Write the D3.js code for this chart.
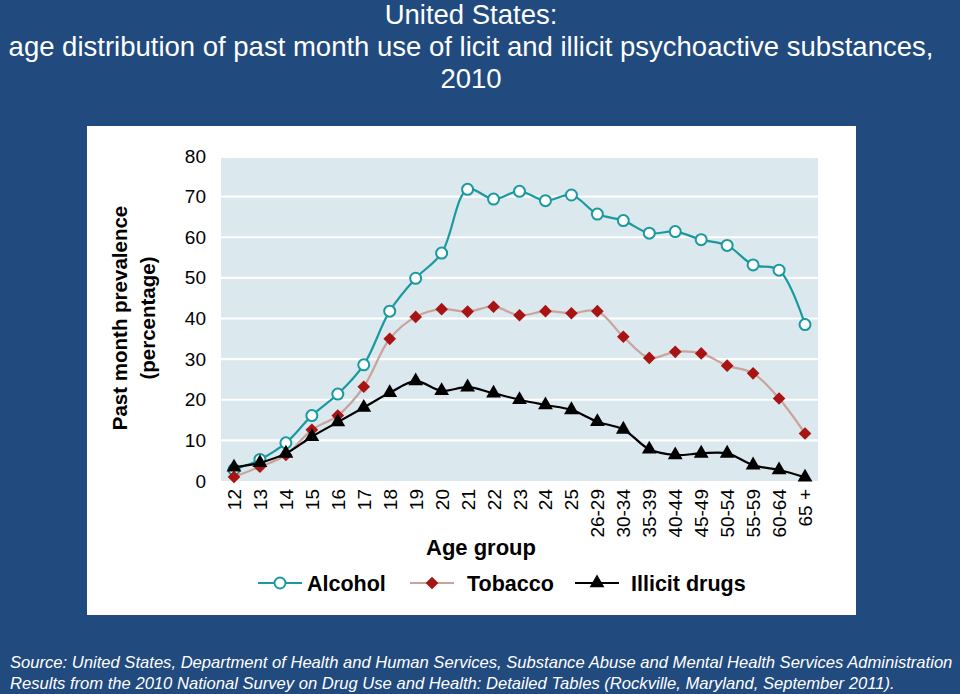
<!DOCTYPE html>
<html><head><meta charset="utf-8">
<script src="https://cdn.jsdelivr.net/npm/d3@7"></script>
<style>
html,body{margin:0;padding:0;background:#214a7e;}
svg{display:block;}
text{font-family:"Liberation Sans",Arial,sans-serif;}
</style></head>
<body>
<svg id="chart" width="960" height="694"></svg>
<script>
const ageGroups = ["12","13","14","15","16","17","18","19","20","21","22","23","24","25","26-29","30-34","35-39","40-44","45-49","50-54","55-59","60-64","65 +"];
const alcohol = [2.8,5.3,9.4,16.1,21.4,28.6,41.8,49.9,56.1,71.8,69.4,71.3,69.0,70.4,65.7,64.1,61.0,61.4,59.4,58.0,53.2,51.9,38.5];
const tobacco = [1.0,3.5,6.4,12.6,16.1,23.2,35.0,40.4,42.3,41.7,42.9,40.8,41.8,41.3,41.8,35.5,30.3,31.8,31.4,28.4,26.5,20.3,11.7];
const illicit = [3.4,4.5,6.8,10.9,14.5,18.1,21.7,24.6,22.2,23.1,21.6,20.0,18.7,17.5,14.6,12.7,7.8,6.4,6.8,6.8,3.9,2.7,0.9];
const yTicks = [0,10,20,30,40,50,60,70,80];
const seriesNames = ["Alcohol","Tobacco","Illicit drugs"];
const titleLines = ["United States:","age distribution of past month use of licit and illicit psychoactive substances,","2010"];
const sourceLines = ["Source:  United States, Department of Health and Human Services, Substance Abuse and Mental Health Services Administration",
"Results from the 2010 National Survey on Drug Use and Health: Detailed Tables (Rockville, Maryland, September 2011)."];

const svg = d3.select("#chart");
svg.append("rect").attr("width",960).attr("height",694).attr("fill","#214a7e");

// title
svg.append("g").selectAll("text").data(titleLines).join("text")
  .attr("x",471).attr("y",(d,i)=>24+i*32).attr("text-anchor","middle")
  .attr("fill","#fff").attr("font-size",27.5).text(d=>d);

// white panel
svg.append("rect").attr("x",87).attr("y",126).attr("width",769).attr("height",489).attr("fill","#fff");

const L=221, R=818, T=156, B=481;
const x = d3.scaleBand().domain(ageGroups).range([L,R]).paddingInner(0).paddingOuter(0);
const cx = d => x(d)+x.bandwidth()/2;
const y = d3.scaleLinear().domain([0,80]).range([B,T]);

svg.append("rect").attr("x",L).attr("y",y(80)+2).attr("width",R-L).attr("height",B-y(80)-2).attr("fill","#dbe8ee");

// gridlines
svg.append("g").selectAll("line").data(yTicks.filter(t=>t>0&&t<80)).join("line")
  .attr("x1",L).attr("x2",R).attr("y1",d=>y(d)).attr("y2",d=>y(d))
  .attr("stroke","#fff").attr("stroke-width",2.2);

// y axis
const yAxis = d3.axisLeft(y).tickValues(yTicks).tickSize(0).tickPadding(15);
const gy = svg.append("g").attr("transform",`translate(${L},0)`).call(yAxis);
gy.select(".domain").remove();
gy.selectAll("text").attr("font-size",19).attr("fill","#000").attr("font-family","Liberation Sans, Arial, sans-serif");

// x axis
const xAxis = d3.axisBottom(x).tickSize(0).tickPadding(0);
const gx = svg.append("g").attr("transform",`translate(0,${B})`).call(xAxis);
gx.select(".domain").remove();
gx.selectAll("text").attr("font-size",19).attr("fill","#000").attr("font-family","Liberation Sans, Arial, sans-serif")
  .attr("text-anchor","end").attr("dy",null).attr("y",0)
  .attr("transform","translate(7,8) rotate(-90)");

// axis titles
svg.append("text").attr("x",481).attr("y",555).attr("text-anchor","middle").attr("font-size",22).attr("font-weight","bold").text("Age group");
const yt = svg.append("text").attr("transform","translate(127,318) rotate(-90)").attr("text-anchor","middle").attr("font-size",20.5).attr("font-weight","bold");
yt.append("tspan").attr("x",0).attr("y",0).text("Past month prevalence");
yt.append("tspan").attr("x",0).attr("y",28).text("(percentage)");

const line = d3.line().x((d,i)=>cx(ageGroups[i])).y(d=>y(d)).curve(d3.curveCatmullRom.alpha(0.5));

const diamond = d3.symbol().type(d3.symbolSquare).size(80);
const tri = d3.symbol().type(d3.symbolTriangle).size(95);

function drawSeries(vals, lineColor, markerFn){
  svg.append("path").datum(vals).attr("d",line).attr("fill","none").attr("stroke",lineColor).attr("stroke-width",2.2);
  const g = svg.append("g");
  vals.forEach((v,i)=>markerFn(g, cx(ageGroups[i]), y(v)));
}
const circleM = (g,px,py)=>g.append("circle").attr("cx",px).attr("cy",py).attr("r",5.5).attr("fill","#fff").attr("stroke","#1a9a9e").attr("stroke-width",2);
const diamondM = (g,px,py)=>g.append("path").attr("d",diamond).attr("transform",`translate(${px},${py}) rotate(45)`).attr("fill","#a81414");
const triM = (g,px,py)=>g.append("path").attr("d",tri).attr("transform",`translate(${px},${py})`).attr("fill","#000");

drawSeries(alcohol,"#1a9a9e",circleM);
drawSeries(tobacco,"#c9a39c",diamondM);
drawSeries(illicit,"#000",triM);

// legend
const legend = [
  {name:seriesNames[0], x0:258, color:"#1a9a9e", m:circleM, tx:307},
  {name:seriesNames[1], x0:410, color:"#c9a39c", m:diamondM, tx:467},
  {name:seriesNames[2], x0:575, color:"#000", m:triM, tx:631}
];
const ly = 583;
legend.forEach(d=>{
  svg.append("line").attr("x1",d.x0).attr("x2",d.x0+44).attr("y1",ly).attr("y2",ly).attr("stroke",d.color).attr("stroke-width",2.2);
  d.m(svg, d.x0+22, ly);
  svg.append("text").attr("x",d.tx).attr("y",ly+8).attr("font-size",21.5).attr("font-weight","bold").text(d.name);
});

// source
svg.append("g").selectAll("text").data(sourceLines).join("text")
  .attr("x",10).attr("y",(d,i)=>668+i*21).attr("fill","#fff").attr("font-size",16.6).attr("font-style","italic")
  .attr("font-family","'Liberation Sans Narrow','Arial Narrow',sans-serif").text(d=>d);
</script>
</body></html>
